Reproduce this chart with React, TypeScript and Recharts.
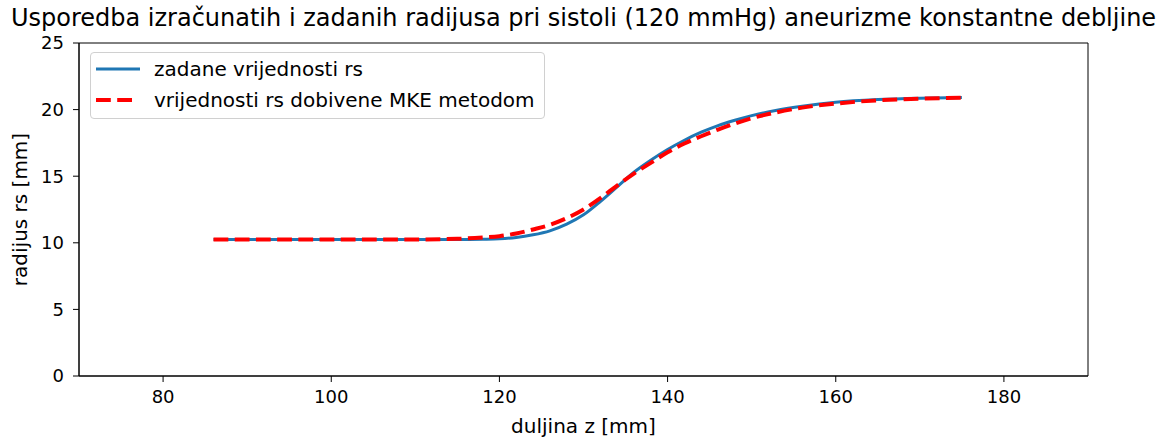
import React from 'react';
import { LineChart, Line, XAxis, YAxis, ReferenceArea, Legend } from 'recharts';

// duljina z [mm]
const zValues = [86, 90, 95, 100, 105, 110, 115, 118, 120, 122, 124, 126, 128, 130, 132, 134, 136, 138, 140, 142, 144, 146, 148, 150, 153, 156, 160, 165, 170, 175];

// zadane vrijednosti rs [mm]
const zadaneRs = [10.25, 10.25, 10.25, 10.25, 10.25, 10.25, 10.25, 10.27, 10.3, 10.4, 10.6, 10.9, 11.4, 12.1, 13.1, 14.2, 15.3, 16.2, 17.0, 17.7, 18.3, 18.8, 19.2, 19.55, 19.95, 20.25, 20.55, 20.75, 20.85, 20.9];

// vrijednosti rs dobivene MKE metodom [mm]
const mkeRs = [10.25, 10.25, 10.25, 10.25, 10.25, 10.25, 10.3, 10.4, 10.5, 10.7, 11.0, 11.35, 11.85, 12.5, 13.35, 14.3, 15.2, 16.0, 16.8, 17.45, 18.0, 18.5, 18.95, 19.35, 19.8, 20.15, 20.45, 20.7, 20.82, 20.9];

const xTicks = [80, 100, 120, 140, 160, 180];
const yTicks = [0, 5, 10, 15, 20, 25];

const data = zValues.map((z, i) => ({ z, zadane: zadaneRs[i], mke: mkeRs[i] }));

const FONT = "'DejaVu Sans', sans-serif";

const renderLegend = () => (
  <div
    style={{
      width: 455,
      height: 67,
      boxSizing: 'border-box',
      border: '1px solid #d0d0d0',
      borderRadius: 4,
      background: 'rgba(255,255,255,0.8)',
      fontFamily: FONT,
      fontSize: 20,
      color: '#000',
      padding: '0 0 0 5px',
    }}
  >
    <div style={{ display: 'flex', alignItems: 'center', height: 31 }}>
      <svg width={44} height={10} style={{ marginRight: 14 }}>
        <line x1={0} y1={5} x2={44} y2={5} stroke="#1f77b4" strokeWidth={3} />
      </svg>
      <span>zadane vrijednosti rs</span>
    </div>
    <div style={{ display: 'flex', alignItems: 'center', height: 31 }}>
      <svg width={44} height={10} style={{ marginRight: 14 }}>
        <line x1={0} y1={5} x2={38} y2={5} stroke="#ff0000" strokeWidth={4} strokeDasharray="14.8 6.4" />
      </svg>
      <span>vrijednosti rs dobivene MKE metodom</span>
    </div>
  </div>
);

const YLabel = ({ viewBox }: any) => (
  <text
    x={viewBox.x + 27}
    y={viewBox.y + viewBox.height / 2}
    transform={`rotate(-90, ${viewBox.x + 27}, ${viewBox.y + viewBox.height / 2})`}
    textAnchor="middle"
    fontSize={20}
    fontFamily={FONT}
    fill="#000"
  >
    radijus rs [mm]
  </text>
);

const XLabel = ({ viewBox }: any) => (
  <text
    x={viewBox.x + viewBox.width / 2}
    y={viewBox.y + 57}
    textAnchor="middle"
    fontSize={20}
    fontFamily={FONT}
    fill="#000"
  >
    duljina z [mm]
  </text>
);

export default function App() {
  return (
    <div style={{ position: 'absolute', left: 0, top: 0, width: 1166, height: 441, background: '#fff', fontFamily: FONT }}>
      <div
        style={{
          position: 'absolute',
          left: 0,
          width: 1166,
          top: 4,
          fontSize: 24,
          lineHeight: 'normal',
          color: '#000',
          whiteSpace: 'nowrap',
        }}
      >
        <span style={{ position: 'absolute', left: 583.5, transform: 'translateX(-50%)' }}>
          Usporedba izračunatih i zadanih radijusa pri sistoli (120 mmHg) aneurizme konstantne debljine
        </span>
      </div>
      <LineChart width={1166} height={441} data={data} margin={{ top: 43, right: 78, left: 0, bottom: 0 }}>
        <XAxis
          dataKey="z"
          type="number"
          domain={[70, 190]}
          ticks={xTicks}
          height={65}
          tickSize={6}
          tickMargin={8}
          stroke="#000"
          tick={{ fill: '#000', fontSize: 18, fontFamily: FONT }}
          label={<XLabel />}
        />
        <YAxis
          type="number"
          domain={[0, 25]}
          ticks={yTicks}
          width={79}
          tickSize={6}
          tickMargin={9}
          stroke="#000"
          tick={{ fill: '#000', fontSize: 18, fontFamily: FONT }}
          label={<YLabel />}
        />
        <ReferenceArea x1={70} x2={190} y1={0} y2={25} fill="none" stroke="#000" strokeWidth={1} ifOverflow="visible" />
        <Line
          type="monotone"
          dataKey="zadane"
          name="zadane vrijednosti rs"
          stroke="#1f77b4"
          strokeWidth={3}
          dot={false}
          isAnimationActive={false}
        />
        <Line
          type="monotone"
          dataKey="mke"
          name="vrijednosti rs dobivene MKE metodom"
          stroke="#ff0000"
          strokeWidth={4}
          strokeDasharray="14.8 6.4"
          dot={false}
          isAnimationActive={false}
        />
        <Legend
          layout="vertical"
          verticalAlign="middle"
          align="center"
          content={renderLegend}
          wrapperStyle={{ position: 'absolute', left: 90, top: 52, width: 'auto', height: 'auto' }}
        />
      </LineChart>
    </div>
  );
}
